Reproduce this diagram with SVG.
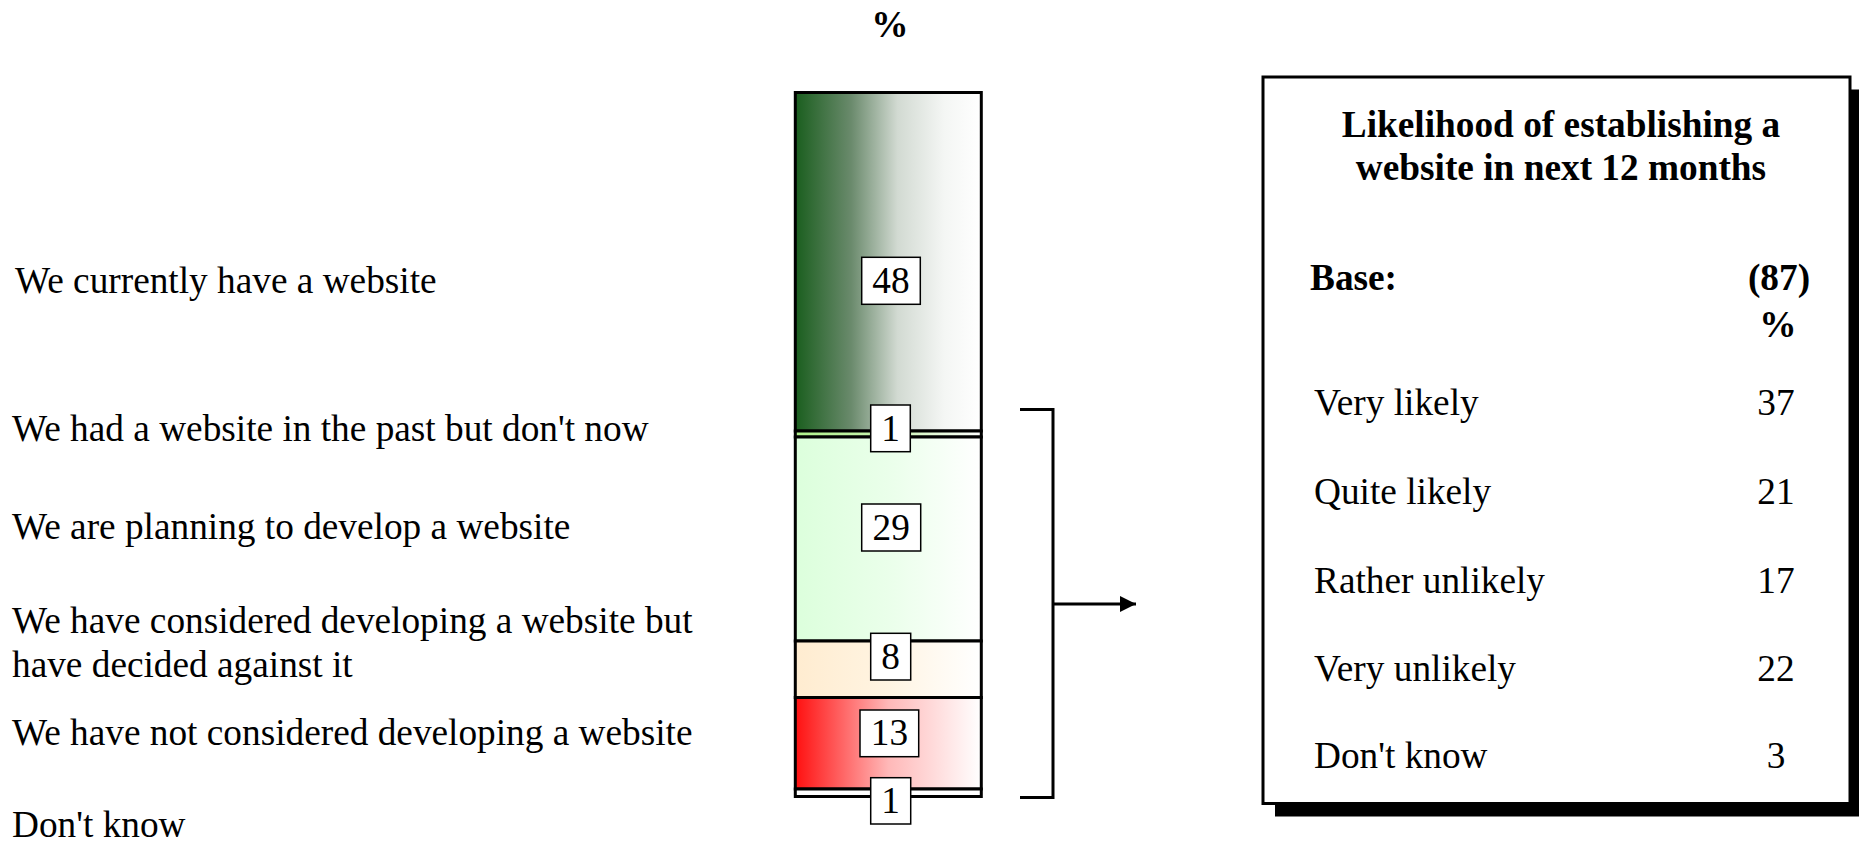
<svg xmlns="http://www.w3.org/2000/svg" width="1859" height="846" viewBox="0 0 1859 846">
<style>
  text { font-family: "Liberation Serif", "Times New Roman", serif; font-size: 37.3px; fill: #000; }
  .b { font-weight: bold; }
  .mid { text-anchor: middle; }
  .seg { stroke: #000; stroke-width: 3; }
  .lbl { fill: #fff; stroke: #000; stroke-width: 1.5; }
  .conn { fill: none; stroke: #000; stroke-width: 3; }
</style>
<defs>
  <linearGradient id="g48" x1="0" y1="0" x2="1" y2="0">
    <stop offset="0" stop-color="#1a5e1e"/>
    <stop offset="0.3" stop-color="#6a8a6c"/>
    <stop offset="0.55" stop-color="#d2dad2"/>
    <stop offset="0.8" stop-color="#f4f6f4"/>
    <stop offset="1" stop-color="#ffffff"/>
  </linearGradient>
  <linearGradient id="g1" x1="0" y1="0" x2="1" y2="0">
    <stop offset="0" stop-color="#b0f08c"/>
    <stop offset="0.5" stop-color="#c8f4b0"/>
    <stop offset="1" stop-color="#ffffff"/>
  </linearGradient>
  <linearGradient id="g29" x1="0" y1="0" x2="1" y2="0">
    <stop offset="0" stop-color="#dcffdc"/>
    <stop offset="0.5" stop-color="#eaffea"/>
    <stop offset="1" stop-color="#ffffff"/>
  </linearGradient>
  <linearGradient id="g8" x1="0" y1="0" x2="1" y2="0">
    <stop offset="0" stop-color="#ffecd0"/>
    <stop offset="0.5" stop-color="#fff4e2"/>
    <stop offset="1" stop-color="#ffffff"/>
  </linearGradient>
  <linearGradient id="g13" x1="0" y1="0" x2="1" y2="0">
    <stop offset="0" stop-color="#ff1010"/>
    <stop offset="0.5" stop-color="#ffb8b8"/>
    <stop offset="1" stop-color="#ffffff"/>
  </linearGradient>
  <marker id="arr" markerWidth="16" markerHeight="16" refX="16" refY="8" orient="auto" markerUnits="userSpaceOnUse">
    <path d="M0,0 L16,8 L0,16 Z" fill="#000"/>
  </marker>
</defs>

<rect width="1859" height="846" fill="#fff"/>

<g id="header">
  <text class="b mid" x="890" y="36.5">%</text>
</g>

<g id="labels-left">
  <text x="15" y="293">We currently have a website</text>
  <text x="12" y="441">We had a website in the past but don't now</text>
  <text x="12" y="539">We are planning to develop a website</text>
  <text x="12" y="633">We have considered developing a website but</text>
  <text x="12" y="676.5">have decided against it</text>
  <text x="12" y="745">We have not considered developing a website</text>
  <text x="12" y="837">Don't know</text>
</g>

<g id="bar">
  <rect id="seg-48" class="seg" x="795.3" y="92.5" width="186" height="338.5" fill="url(#g48)"/>
  <rect id="seg-1a" class="seg" x="795.3" y="431" width="186" height="6" fill="url(#g1)"/>
  <rect id="seg-29" class="seg" x="795.3" y="437" width="186" height="204" fill="url(#g29)"/>
  <rect id="seg-8" class="seg" x="795.3" y="641" width="186" height="56.5" fill="url(#g8)"/>
  <rect id="seg-13" class="seg" x="795.3" y="697.5" width="186" height="91.5" fill="url(#g13)"/>
  <rect id="seg-1b" class="seg" x="795.3" y="789" width="186" height="7.5" fill="#ffffff"/>
</g>

<g id="value-48">
  <rect class="lbl" x="861.7" y="257.3" width="58.6" height="47"/>
  <text class="mid" x="891" y="293.3">48</text>
</g>
<g id="value-1a">
  <rect class="lbl" x="870.7" y="405" width="39.6" height="46.7"/>
  <text class="mid" x="890.5" y="441">1</text>
</g>
<g id="value-29">
  <rect class="lbl" x="861.7" y="504" width="59" height="47"/>
  <text class="mid" x="891.2" y="540">29</text>
</g>
<g id="value-8">
  <rect class="lbl" x="870.7" y="633.3" width="40" height="46.7"/>
  <text class="mid" x="890.7" y="669.3">8</text>
</g>
<g id="value-13">
  <rect class="lbl" x="860" y="710" width="58.7" height="46.7"/>
  <text class="mid" x="889.4" y="745">13</text>
</g>
<g id="value-1b">
  <rect class="lbl" x="870.7" y="777.7" width="40" height="46.3"/>
  <text class="mid" x="890.7" y="813.3">1</text>
</g>

<g id="connectors">
  <path class="conn" d="M1020,409.5 H1053 V797.5 H1020"/>
  <path class="conn" d="M1053,604 H1136" marker-end="url(#arr)"/>
</g>

<g id="panel">
  <rect x="1275" y="89.5" width="587" height="727" fill="#000"/>
  <rect x="1263" y="77" width="587" height="726.5" fill="#fff" stroke="#000" stroke-width="3"/>
  <text class="b mid" x="1561" y="137">Likelihood of establishing a</text>
  <text class="b mid" x="1561" y="179.5">website in next 12 months</text>
  <text class="b" x="1310" y="290">Base:</text>
  <text class="b mid" x="1779" y="290">(87)</text>
  <text class="b mid" x="1778" y="336.7">%</text>
  <text x="1314" y="415">Very likely</text>
  <text class="mid" x="1776" y="415">37</text>
  <text x="1314" y="504">Quite likely</text>
  <text class="mid" x="1776" y="504">21</text>
  <text x="1314" y="592.7">Rather unlikely</text>
  <text class="mid" x="1776" y="592.7">17</text>
  <text x="1314" y="681">Very unlikely</text>
  <text class="mid" x="1776" y="681">22</text>
  <text x="1314" y="768.3">Don't know</text>
  <text class="mid" x="1776" y="768.3">3</text>
</g>
</svg>
